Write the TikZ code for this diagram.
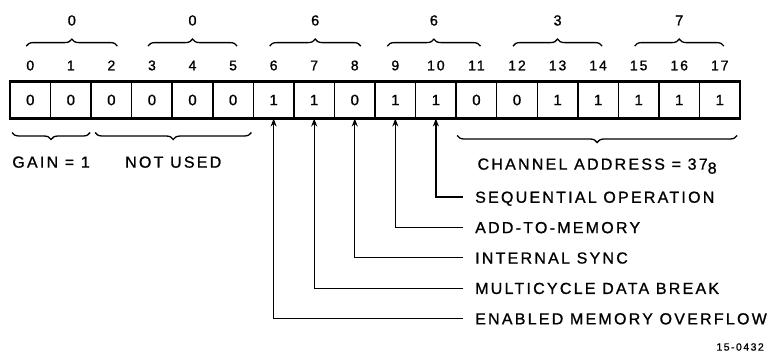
\documentclass[tikz,border=0pt]{standalone}
\usepackage{fontspec}
\setmainfont{Liberation Sans}[LetterSpace=14, FakeBold=1]
\usepackage{tikz}
\usetikzlibrary{positioning, arrows.meta, decorations.pathreplacing}
\tikzset{
  cell/.style={rectangle, draw=black, line width=1.5pt, minimum width=40.56pt, minimum height=37pt, inner sep=0pt, outer sep=0pt, font=\fontsize{15}{15}\selectfont},
  frame/.style={draw=black, line width=2.6pt},
  bitnum/.style={inner sep=0pt, text height=10pt, text depth=0pt, font=\fontsize{14}{14}\selectfont},
  octal/.style={inner sep=0pt, text height=10.5pt, text depth=0pt, font=\fontsize{14.5}{14.5}\selectfont},
  field/.style={inner sep=0pt, text height=11.5pt, text depth=0pt, font=\fontsize{16}{16}\selectfont},
  flag/.style={anchor=west, inner sep=0pt, text height=11.5pt, text depth=0pt, font=\fontsize{16}{16}\selectfont},
  brace/.style={decorate, decoration={brace, amplitude=7pt}, line width=1.3pt},
  arrow/.style={line width=1.3pt, -{Stealth[length=8pt, width=6pt]}}
}

\begin{document}
\begin{tikzpicture}[x=1pt, y=-1pt, node distance=11pt]
        \useasboundingbox (0,0) rectangle (769,356);

        % data word, bits 0 to 17
        \node (c0) [cell] at (30.28,100) {0};
        \node (c1) [cell, right=0pt of c0] {0};
        \node (c2) [cell, right=0pt of c1] {0};
        \node (c3) [cell, right=0pt of c2] {0};
        \node (c4) [cell, right=0pt of c3] {0};
        \node (c5) [cell, right=0pt of c4] {0};
        \node (c6) [cell, right=0pt of c5] {1};
        \node (c7) [cell, right=0pt of c6] {1};
        \node (c8) [cell, right=0pt of c7] {0};
        \node (c9) [cell, right=0pt of c8] {1};
        \node (c10) [cell, right=0pt of c9] {1};
        \node (c11) [cell, right=0pt of c10] {0};
        \node (c12) [cell, right=0pt of c11] {0};
        \node (c13) [cell, right=0pt of c12] {1};
        \node (c14) [cell, right=0pt of c13] {1};
        \node (c15) [cell, right=0pt of c14] {1};
        \node (c16) [cell, right=0pt of c15] {1};
        \node (c17) [cell, right=0pt of c16] {1};
        \draw [frame] (c0.north west) rectangle (c17.south east);

        % bit numbers
        \node (n0) [bitnum, above=of c0] {0};
        \node (n1) [bitnum, above=of c1] {1};
        \node (n2) [bitnum, above=of c2] {2};
        \node (n3) [bitnum, above=of c3] {3};
        \node (n4) [bitnum, above=of c4] {4};
        \node (n5) [bitnum, above=of c5] {5};
        \node (n6) [bitnum, above=of c6] {6};
        \node (n7) [bitnum, above=of c7] {7};
        \node (n8) [bitnum, above=of c8] {8};
        \node (n9) [bitnum, above=of c9] {9};
        \node (n10) [bitnum, above=of c10] {10};
        \node (n11) [bitnum, above=of c11] {11};
        \node (n12) [bitnum, above=of c12] {12};
        \node (n13) [bitnum, above=of c13] {13};
        \node (n14) [bitnum, above=of c14] {14};
        \node (n15) [bitnum, above=of c15] {15};
        \node (n16) [bitnum, above=of c16] {16};
        \node (n17) [bitnum, above=of c17] {17};

        % octal digits
        \draw [brace] ([xshift=-4pt, yshift=14pt]n0.north) -- ([xshift=6pt, yshift=14pt]n2.north) node (o1) [octal, midway, above=20pt] {0};
        \draw [brace] ([xshift=-4pt, yshift=14pt]n3.north) -- ([xshift=4pt, yshift=14pt]n5.north) node (o2) [octal, midway, above=20pt] {0};
        \draw [brace] ([xshift=-4pt, yshift=14pt]n6.north) -- ([xshift=6pt, yshift=14pt]n8.north) node (o3) [octal, midway, above=20pt] {6};
        \draw [brace] ([xshift=-8pt, yshift=14pt]n9.north) -- ([xshift=4pt, yshift=14pt]n11.north) node (o4) [octal, midway, above=20pt] {6};
        \draw [brace] ([xshift=-4pt, yshift=14pt]n12.north) -- ([xshift=4pt, yshift=14pt]n14.north) node (o5) [octal, midway, above=20pt] {3};
        \draw [brace] ([xshift=-4pt, yshift=14pt]n15.north) -- ([xshift=4pt, yshift=14pt]n17.north) node (o6) [octal, midway, above=20pt] {7};

        % fields below the word
        \draw [brace] ([xshift=-1pt, yshift=-14pt]c1.south east) -- ([xshift=2pt, yshift=-14pt]c0.south west) node (gain) [field, midway, below=23pt] {GAIN = 1};
        \draw [brace] ([xshift=-2pt, yshift=-14pt]c5.south east) -- ([xshift=4pt, yshift=-14pt]c2.south west) node (unused) [field, midway, below=23pt] {NOT USED};
        \draw [brace] ([xshift=-3pt, yshift=-17pt]c17.south east) -- ([xshift=1pt, yshift=-17pt]c11.south west) node (chan) [field, midway, below=22pt] {CHANNEL ADDRESS = 37\raisebox{-4pt}{8}};

        % control bits
        \node (seq) [flag] at (475,197) {SEQUENTIAL OPERATION};
        \node (addmem) [flag, below right=18.5pt and 0pt of seq.south west] {ADD-TO-MEMORY};
        \node (isync) [flag, below right=18.5pt and 0pt of addmem.south west] {INTERNAL SYNC};
        \node (mcdb) [flag, below right=18.5pt and 0pt of isync.south west] {MULTICYCLE DATA BREAK};
        \node (overflow) [flag, below right=18.5pt and 0pt of mcdb.south west] {ENABLED MEMORY OVERFLOW};

        \draw [arrow] ([xshift=-12pt]seq.west) -| (c10.south);
        \draw [arrow] ([xshift=-12pt]addmem.west) -| (c9.south);
        \draw [arrow] ([xshift=-12pt]isync.west) -| (c8.south);
        \draw [arrow] ([xshift=-12pt]mcdb.west) -| (c7.south);
        \draw [arrow] ([xshift=-12pt]overflow.west) -| (c6.south);

        \node (fignum) [anchor=east, inner sep=0pt, font=\fontsize{10.5}{10.5}\selectfont] at (764,347) {15-0432};
    \end{tikzpicture}
\end{document}
